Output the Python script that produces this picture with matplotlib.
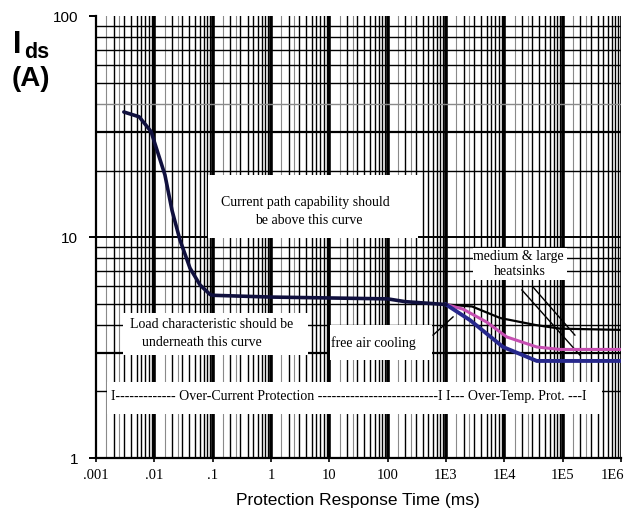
import numpy as np
import matplotlib
matplotlib.use("Agg")
import matplotlib.pyplot as plt
from matplotlib.patches import Rectangle
from matplotlib.transforms import ScaledTranslation

# ---- data ----
common_t = [0.003, 0.0055, 0.0088, 0.0152, 0.0201, 0.0275, 0.0408, 0.0607, 0.09, 0.1, 1, 10, 100, 200, 1000]
common_i = [36.8, 35.0, 30.0, 19.1, 13.2, 9.7, 7.24, 6.07, 5.5, 5.45, 5.35, 5.3, 5.25, 5.1, 4.95]

large_t = [1000, 2800, 8500, 34000, 90000, 1e6]
large_i = [4.95, 4.85, 4.3, 4.0, 3.85, 3.8]

medium_t = [1000, 1950, 5000, 11000, 36000, 90000, 1e6]
medium_i = [4.95, 4.72, 4.12, 3.53, 3.18, 3.1, 3.1]

free_t = [1000, 2600, 9500, 36000, 1e6]
free_i = [4.95, 4.2, 3.18, 2.75, 2.75]

x_ticks = [1e-3, 1e-2, 1e-1, 1, 10, 100, 1e3, 1e4, 1e5, 1e6]
x_labels = [".001", ".01", ".1", "1", "10", "100", "1E3", "1E4", "1E5", "1E6"]
y_ticks = [1, 10, 100]
y_labels = ["1", "10", "100"]

# heatsink pointer lines (time, current)
hs_line_a = ([2.0e4, 1.98e5], [5.76, 2.92])
hs_line_b = ([3.1e4, 1.62e5], [5.94, 3.6])
free_pointer = ([600, 1320], [3.6, 4.35])

# ---- figure ----
fig = plt.figure(figsize=(6.29, 5.14), dpi=100)
ax = fig.add_axes([0.1526, 0.1089, 0.8347, 0.8599])
ax.set_xscale("log")
ax.set_yscale("log")
ax.set_xlim(1e-3, 1e6)
ax.set_ylim(1, 100)

# grid
for d in range(-3, 6):
    for m in range(2, 10):
        ax.axvline(m * 10.0**d, color="black", lw=1.0, zorder=1)
    for m in (1.5, 2.5):
        ax.axvline(m * 10.0**d, color="#8a8a8a", lw=0.8, zorder=1)
    if d > -3:
        ax.axvline(10.0**d, color="black", lw=2.6, zorder=1)
ax.axvline(1e6, color="black", lw=1.2, zorder=1)
for d in range(0, 2):
    for m in range(2, 10):
        c = "#8a8a8a" if m in (4,) and d == 1 else "black"
        lw = 1.6 if m == 3 else 1.0
        ax.axhline(m * 10.0**d, color=c, lw=lw, zorder=1)
ax.axhline(10, color="black", lw=1.4, zorder=1)

# white label boxes (axes fraction)
boxes = [
    (0.213, 0.498, 0.400, 0.142),
    (0.051, 0.233, 0.353, 0.095),
    (0.446, 0.222, 0.194, 0.079),
    (0.718, 0.403, 0.179, 0.072),
    (0.021, 0.100, 0.943, 0.072),
]
for (bx, by, bw, bh) in boxes:
    ax.add_patch(Rectangle((bx, by), bw, bh, transform=ax.transAxes,
                           facecolor="white", edgecolor="none", zorder=2))

serif = "Liberation Serif"
ts = 10
ax.text(0.398, 0.579, "Current path capability should", transform=ax.transAxes,
        ha="center", va="center", family=serif, fontsize=ts, zorder=3)
ax.text(0.405, 0.538, "be above this curve", transform=ax.transAxes,
        ha="center", va="center", family=serif, fontsize=ts, zorder=3)
ax.text(0.221, 0.301, "Load characteristic should be", transform=ax.transAxes,
        ha="center", va="center", family=serif, fontsize=ts, zorder=3)
ax.text(0.202, 0.262, "underneath this curve", transform=ax.transAxes,
        ha="center", va="center", family=serif, fontsize=ts, zorder=3)
ax.text(0.528, 0.260, "free air cooling", transform=ax.transAxes,
        ha="center", va="center", family=serif, fontsize=ts, zorder=3)
ax.text(0.804, 0.457, "medium & large", transform=ax.transAxes,
        ha="center", va="center", family=serif, fontsize=ts, zorder=3)
ax.text(0.807, 0.421, "heatsinks", transform=ax.transAxes,
        ha="center", va="center", family=serif, fontsize=ts, zorder=3)
ax.text(0.029, 0.140,
        "I------------- Over-Current Protection --------------------------I I--- Over-Temp. Prot. ---I",
        transform=ax.transAxes, ha="left", va="center", family=serif, fontsize=ts, zorder=3)

# pointer lines
ax.plot(*hs_line_a, color="black", lw=1.0, zorder=4)
ax.plot(*hs_line_b, color="black", lw=1.0, zorder=4)
ax.plot(*free_pointer, color="black", lw=1.0, zorder=4)

# curves
ax.plot(large_t, large_i, color="black", lw=1.6, zorder=5, solid_capstyle="butt")
ax.plot(medium_t, medium_i, color="#c64fb2", lw=2.2, zorder=6)
ax.plot(free_t, free_i, color="#27288c", lw=2.8, zorder=7)
ax.plot(common_t, common_i, color="#10103e", lw=2.6, zorder=8, solid_capstyle="round")

# axes styling
for s in ("top", "right"):
    ax.spines[s].set_visible(False)
ax.spines["left"].set_linewidth(1.6)
ax.spines["bottom"].set_linewidth(1.6)
ax.spines["left"].set_zorder(9)
ax.spines["bottom"].set_zorder(9)

ax.set_xticks(x_ticks)
ax.set_xticklabels(x_labels, family=serif, fontsize=10.5)
ax.set_yticks(y_ticks)
ax.set_yticklabels(y_labels, family="Liberation Sans", fontsize=11)
ax.minorticks_off()
ax.tick_params(axis="x", which="major", length=3, width=1.2, pad=5, direction="out")
ax.tick_params(axis="y", which="major", length=5, width=1.4, pad=8, direction="out")
last = ax.get_xticklabels()[-1]
last.set_transform(last.get_transform() + ScaledTranslation(-9 / 100, 0, fig.dpi_scale_trans))

fig.text(0.569, 0.027, "Protection Response Time (ms)", ha="center", va="center",
         family="Liberation Sans", fontsize=12.5)
fig.text(0.020, 0.913, "I", ha="left", va="center", family="Liberation Sans",
         fontweight="bold", fontsize=22)
fig.text(0.038, 0.898, "ds", ha="left", va="center", family="Liberation Sans",
         fontweight="bold", fontsize=15.5)
fig.text(0.019, 0.847, "(A)", ha="left", va="center", family="Liberation Sans",
         fontweight="bold", fontsize=20)

fig.savefig("out.png", dpi=100, facecolor="white")
